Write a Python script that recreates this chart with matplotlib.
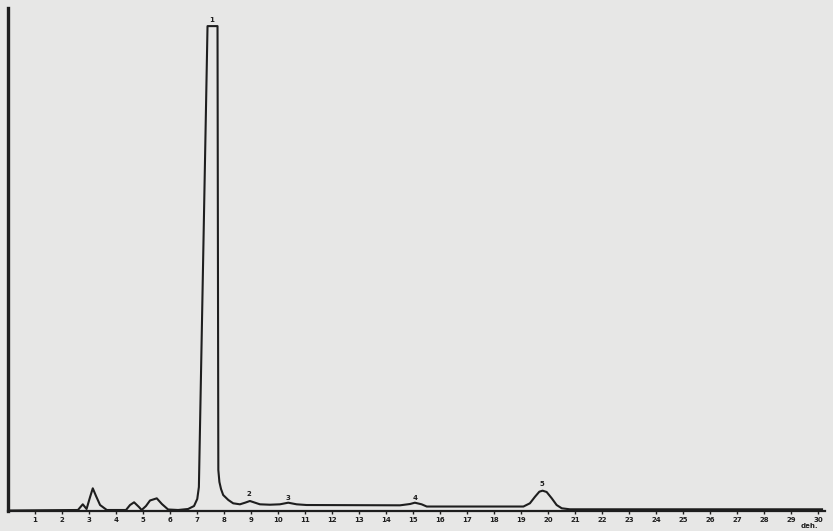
#!/usr/bin/env python3
"""Chromatogram trace (scanned figure), redrawn with matplotlib."""

import matplotlib
matplotlib.use("Agg")
import matplotlib.pyplot as plt

# trace: retention (divisions) vs detector response (arbitrary)
trace_x = [0.04, 2.59, 2.77, 2.91, 3.04, 3.14, 3.26, 3.41, 3.66,
           4.37, 4.52, 4.67, 4.85, 4.95, 5.11, 5.26, 5.51, 5.70, 5.93,
           6.30, 6.67, 6.89, 7.01, 7.07, 7.39, 7.76, 7.79, 7.83, 7.89,
           7.97, 8.16, 8.34, 8.59, 8.78, 8.96, 9.15, 9.33, 9.70,
           10.07, 10.38, 10.69, 11.06, 14.52, 14.89, 15.07, 15.32, 15.51,
           19.09, 19.33, 19.52, 19.68, 19.80, 19.95, 20.14, 20.32, 20.51,
           20.81, 30.15]
trace_y = [0.1, 0.2, 1.33, 0.4, 2.78, 4.51, 2.98, 1.19, 0.2,
           0.2, 1.19, 1.73, 0.8, 0.2, 0.99, 2.09, 2.52, 1.39, 0.3,
           0.2, 0.4, 0.99, 2.4, 4.77, 96.4, 96.4, 8.15, 5.77, 4.37,
           3.18, 2.19, 1.53, 1.33, 1.65, 1.99, 1.65, 1.33, 1.25,
           1.33, 1.65, 1.33, 1.19, 1.13, 1.39, 1.65, 1.33, 0.89,
           0.89, 1.53, 2.84, 3.84, 4.04, 3.78, 2.52, 1.19, 0.54,
           0.34, 0.34]

# numbered peaks
peak_labels = ["1", "2", "3", "4", "5"]
peak_x = [7.56, 8.94, 10.38, 15.07, 19.79]
peak_y = [97.6, 3.38, 2.58, 2.49, 5.37]

tick_pos = list(range(1, 31))
tick_labels = [str(t) for t in tick_pos]

bg = "#e7e7e6"
ink = "#1e1e1e"

fig = plt.figure(figsize=(8.33, 5.31), dpi=100, facecolor=bg)
ax = fig.add_axes([8 / 833, 20 / 531, 817 / 833, 503 / 531], facecolor=bg)

ax.plot(trace_x, trace_y, color=ink, lw=1.5, solid_joinstyle="round")

for lab, x, y in zip(peak_labels, peak_x, peak_y):
    ax.text(x, y, lab, ha="center", va="center", fontsize=5,
            fontweight="bold", color=ink)

ax.set_xlim(0, 30.26)
ax.set_ylim(0, 100)
ax.set_xticks(tick_pos)
ax.set_xticklabels(tick_labels, fontsize=5, fontweight="bold", color=ink)
ax.set_yticks([])
ax.tick_params(axis="x", length=2, width=1, pad=2, color=ink)

for side in ("top", "right"):
    ax.spines[side].set_visible(False)
ax.spines["left"].set_linewidth(2.4)
ax.spines["left"].set_color(ink)
ax.spines["bottom"].set_linewidth(1.6)
ax.spines["bottom"].set_color(ink)

ax.text(29.7, -3.0, "deh.", ha="center", va="center", fontsize=5,
        fontweight="bold", color=ink, clip_on=False)

fig.savefig("out.png", dpi=100, facecolor=bg)
